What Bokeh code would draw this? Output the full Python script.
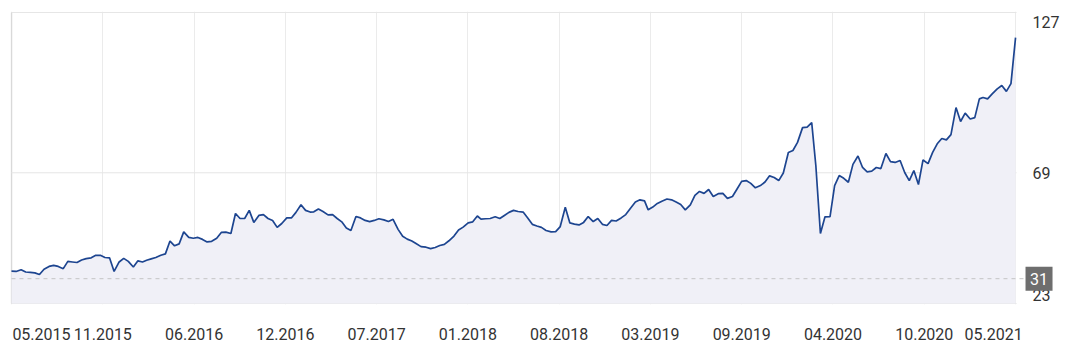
import pandas as pd
from bokeh.plotting import figure
from bokeh.models import Range1d, FixedTicker
from bokeh.core.properties import value
from bokeh.embed import file_html
from bokeh.resources import INLINE

dates = [
"2015-05-11","2015-05-21","2015-06-01","2015-06-11","2015-06-21","2015-07-01","2015-07-11","2015-07-21","2015-08-01","2015-08-11","2015-08-21","2015-09-01","2015-09-11","2015-09-21","2015-10-01","2015-10-11","2015-10-21","2015-11-01","2015-11-11","2015-11-21","2015-12-01","2015-12-11","2015-12-21",
"2016-01-01","2016-01-11","2016-01-21","2016-02-01","2016-02-11","2016-02-21","2016-03-01","2016-03-11","2016-03-21","2016-04-01","2016-04-11","2016-04-21","2016-05-01","2016-05-11","2016-05-21","2016-06-01","2016-06-11","2016-06-21","2016-07-01","2016-07-11","2016-07-21","2016-08-01","2016-08-11","2016-08-21","2016-09-01","2016-09-11","2016-09-21","2016-10-01","2016-10-11","2016-10-21","2016-11-01","2016-11-11","2016-11-21","2016-12-01","2016-12-11","2016-12-21",
"2017-01-01","2017-01-11","2017-01-21","2017-02-01","2017-02-11","2017-02-21","2017-03-01","2017-03-11","2017-03-21","2017-04-01","2017-04-11","2017-04-21","2017-05-01","2017-05-11","2017-05-21","2017-06-01","2017-06-11","2017-06-21","2017-07-01","2017-07-11","2017-07-21","2017-08-01","2017-08-11","2017-08-21","2017-09-01","2017-09-11","2017-09-21","2017-10-01","2017-10-11","2017-10-21","2017-11-01","2017-11-11","2017-11-21","2017-12-01","2017-12-11","2017-12-21",
"2018-01-01","2018-01-11","2018-01-21","2018-02-01","2018-02-11","2018-02-21","2018-03-01","2018-03-11","2018-03-21","2018-04-01","2018-04-11","2018-04-21","2018-05-01","2018-05-11","2018-05-21","2018-06-01","2018-06-11","2018-06-21","2018-07-01","2018-07-11","2018-07-21","2018-08-01","2018-08-11","2018-08-21","2018-09-01","2018-09-11","2018-09-21","2018-10-01","2018-10-11","2018-10-21","2018-11-01","2018-11-11","2018-11-21","2018-12-01","2018-12-11","2018-12-21",
"2019-01-01","2019-01-11","2019-01-21","2019-02-01","2019-02-11","2019-02-21","2019-03-01","2019-03-11","2019-03-21","2019-04-01","2019-04-11","2019-04-21","2019-05-01","2019-05-11","2019-05-21","2019-06-01","2019-06-11","2019-06-21","2019-07-01","2019-07-11","2019-07-21","2019-08-01","2019-08-11","2019-08-21","2019-09-01","2019-09-11","2019-09-21","2019-10-01","2019-10-11","2019-10-21","2019-11-01","2019-11-11","2019-11-21","2019-12-01","2019-12-11","2019-12-21",
"2020-01-01","2020-01-11","2020-01-21","2020-02-01","2020-02-11","2020-02-21","2020-03-01","2020-03-11","2020-03-21","2020-04-01","2020-04-11","2020-04-21","2020-05-01","2020-05-11","2020-05-21","2020-06-01","2020-06-11","2020-06-21","2020-07-01","2020-07-11","2020-07-21","2020-08-01","2020-08-11","2020-08-21","2020-09-01","2020-09-11","2020-09-21","2020-10-01","2020-10-11","2020-10-21","2020-11-01","2020-11-11","2020-11-21","2020-12-01","2020-12-11","2020-12-21",
"2021-01-01","2021-01-11","2021-01-21","2021-02-01","2021-02-11","2021-02-21","2021-03-01","2021-03-11","2021-03-21","2021-04-01","2021-04-11","2021-04-21","2021-05-01","2021-05-11",
]

prices = [
33.7,33.6,34.2,33.4,33.3,33.1,32.5,34.4,35.4,35.8,
35.4,34.6,37.2,37.0,36.8,37.7,38.2,38.5,39.4,39.4,
38.6,38.5,33.6,37.0,38.3,37.2,35.2,37.4,37.0,37.6,
38.1,38.6,39.4,39.9,44.5,42.8,43.5,47.8,45.8,45.5,
45.8,45.1,44.2,44.4,45.5,47.6,47.7,47.2,54.4,52.6,
52.6,55.5,51.2,53.7,54.0,52.6,51.9,49.4,50.8,52.8,
52.8,54.8,57.5,55.5,54.9,55.0,56.0,55.1,53.9,54.0,
52.6,51.4,49.2,48.3,53.3,52.8,51.9,51.5,51.9,52.5,
52.1,51.5,52.3,48.7,46.2,45.2,44.5,43.5,42.5,42.3,
41.8,42.2,42.9,43.3,44.6,46.3,48.5,49.5,51.0,51.4,
53.5,52.4,52.5,52.6,53.2,52.6,53.7,54.8,55.5,55.1,
54.9,52.8,50.5,49.9,49.4,48.3,47.8,47.9,49.7,56.6,
51.0,50.6,50.3,51.2,53.3,51.5,52.6,50.5,50.1,51.9,
51.7,52.8,54.0,56.2,58.5,59.3,58.9,55.7,56.7,58.0,
58.9,59.6,59.3,58.5,57.6,55.7,57.5,60.9,62.3,61.6,
63.0,60.5,61.5,61.6,59.8,60.5,63.2,65.9,66.2,65.2,
63.6,64.4,65.7,67.9,67.3,66.2,68.9,76.3,77.0,79.9,
85.2,85.4,87.0,71.6,47.2,53.2,53.3,64.4,68.0,67.0,
65.6,72.0,75.0,70.9,69.3,69.6,70.9,70.5,75.9,73.0,
72.7,73.4,69.1,66.2,69.8,64.8,73.6,72.3,76.3,79.4,
81.3,80.8,82.7,92.4,87.4,90.4,88.3,88.8,95.5,96.0,
95.5,97.3,99.1,100.3,98.2,101.0,117.5,
]

x_tick_labels = ["05.2015", "11.2015", "06.2016", "12.2016", "07.2017", "01.2018",
                 "08.2018", "03.2019", "09.2019", "04.2020", "10.2020", "05.2021"]
y_tick_labels = ["23", "69", "127"]
y_grid_value = 69
reference_price = 31
reference_label = "31"

FONT = "Roboto"
LINE = "#1d4590"
TXT = "#333333"

x = pd.to_datetime(dates)
start = pd.Timestamp("2015-05-11")
end = pd.Timestamp("2021-05-11")

def ms(ts):
    return ts.value / 1e6

# pixel scale helpers (layout only)
span_ms = ms(end) - ms(start)
day_px = span_ms / 1005.0           # ms per pixel in x
val_px = 0.3585                     # value units per pixel in y
y_top_border, y_bot_border = 126.5, 22.1
y_hi = y_top_border + val_px
y_lo = y_bot_border - val_px
x_lo = ms(start) - 1 * day_px
x_hi = ms(start) + 1055 * day_px    # frame runs to the right edge of the canvas
x_frame_r = ms(end) + 1 * day_px

p = figure(width=1065, height=342, x_axis_type="datetime", y_axis_location=None,
           output_backend="svg", toolbar_location=None,
           x_range=Range1d(x_lo, x_hi), y_range=Range1d(y_lo, y_hi),
           min_border_left=10, min_border_top=11, min_border_bottom=38, min_border_right=0)
p.background_fill_color = "white"
p.border_fill_color = "white"
p.outline_line_color = None

# grids
grid_ticks = [ms(start) + span_ms * i / 11 for i in range(12)]
p.xgrid.ticker = FixedTicker(ticks=grid_ticks)
p.xgrid.grid_line_color = "#ebebeb"
p.ygrid.grid_line_color = None

# frame borders and horizontal grid (stop at the plot's right edge)
p.line(x=[ms(start), x_frame_r], y=[y_top_border, y_top_border], line_color="#e6e6e6", line_width=1)
p.line(x=[ms(start), x_frame_r], y=[y_bot_border, y_bot_border], line_color="#e6e6e6", line_width=1)
p.line(x=[ms(start), ms(start)], y=[y_bot_border, y_top_border], line_color="#d9d9d9", line_width=1.5)
p.line(x=[ms(start), x_frame_r], y=[y_grid_value, y_grid_value], line_color="#e6e6e6", line_width=1)

# data
p.varea(x=x, y1=y_bot_border, y2=prices, fill_color="#f0f0f7", fill_alpha=1.0)
p.line(x=x, y=prices, line_color=LINE, line_width=1.7)

# dashed reference line
p.line(x=[ms(start), ms(end) + 12 * day_px], y=[reference_price, reference_price],
       line_color="#c4c4c4", line_dash="4 4", line_width=1)

# right-hand value labels
y_label_pos = [25.0, 69, 123.2]
p.text(x=[ms(end) + 17 * day_px] * 3, y=y_label_pos, text=y_tick_labels,
       text_align="left", text_baseline="middle", text_color=TXT,
       text_font=value(FONT), text_font_size="16px")

# reference price tag
p.rect(x=[ms(end) + 23.5 * day_px], y=[reference_price], width=27, height=24,
       width_units="screen", height_units="screen", fill_color="#6e6e6e", line_color=None)
p.text(x=[ms(end) + 23.5 * day_px], y=[reference_price], text=[reference_label],
       text_align="center", text_baseline="middle", text_color="white",
       text_font=value(FONT), text_font_size="16px")

# x labels: first/last kept inside the plot edge
label_ticks = list(grid_ticks)
label_ticks[0] = grid_ticks[0] + 30 * day_px
label_ticks[-1] = grid_ticks[-1] - 22 * day_px
xa = p.xaxis[0]
xa.ticker = FixedTicker(ticks=label_ticks)
xa.major_label_overrides = {t: l for t, l in zip(label_ticks, x_tick_labels)}
xa.axis_line_color = None
xa.major_tick_line_color = None
xa.minor_tick_line_color = None
xa.major_label_standoff = 17
xa.major_label_text_font = FONT
xa.major_label_text_font_size = "16px"
xa.major_label_text_color = TXT

open("out.html", "w").write(file_html(p, INLINE))
